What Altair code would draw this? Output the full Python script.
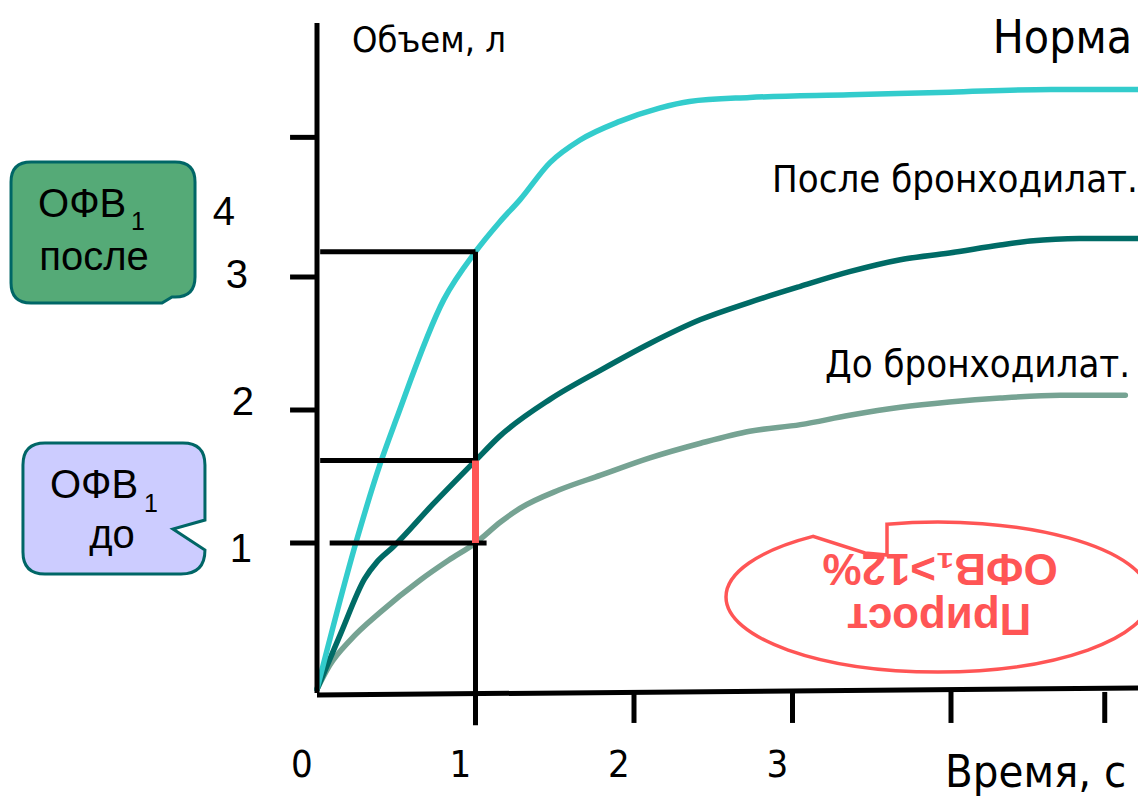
import altair as alt
import pandas as pd

# ---------------- data ----------------
series_names = ["До бронходилат.", "После бронходилат.", "Норма"]
series_colors = ["#76A393", "#006B66", "#33CCCC"]

# time (s) / volume (l)
norm_t = [0, 0.25, 0.40, 0.50, 0.80, 1.00, 1.15, 1.28, 1.47, 1.66, 1.91, 2.16, 2.35, 2.73, 3.36, 3.99, 4.63, 5.23]
norm_v = [-0.10, 1.02, 1.60, 1.93, 2.83, 3.19, 3.41, 3.58, 3.86, 4.03, 4.17, 4.27, 4.32, 4.35, 4.37, 4.39, 4.41, 4.41]

post_t = [0, 0.15, 0.30, 0.38, 0.48, 0.73, 1.00, 1.15, 1.47, 1.79, 2.10, 2.42, 2.73, 3.05, 3.36, 3.68, 3.99, 4.31, 4.50, 4.81, 5.19]
post_v = [-0.10, 0.32, 0.73, 0.86, 0.97, 1.29, 1.62, 1.80, 2.08, 2.30, 2.50, 2.68, 2.81, 2.93, 3.04, 3.13, 3.18, 3.24, 3.27, 3.29, 3.29]

pre_t = [0, 0.08, 0.21, 0.40, 0.65, 0.83, 1.00, 1.16, 1.28, 1.53, 1.79, 2.10, 2.42, 2.73, 3.05, 3.36, 3.68, 3.99, 4.31, 4.69, 5.10]
pre_v = [-0.10, 0.08, 0.27, 0.48, 0.72, 0.87, 1.00, 1.16, 1.26, 1.40, 1.51, 1.64, 1.75, 1.84, 1.89, 1.96, 2.02, 2.06, 2.09, 2.11, 2.11]

# FEV1 guide levels (l) and their horizontal extent (s)
guide_level = [3.19, 1.62, 1.00]
guide_from = [0.02, 0.02, 0.08]
guide_to = [1.00, 1.00, 1.07]
fev1_time = 1.0
fev1_pre = 1.00
fev1_post = 1.62

y_tick_values = [1.0, 2.0, 3.0, 4.05]
y_tick_labels = ["1", "2", "3", "4"]
x_tick_values = [1, 2, 3, 4, 4.97]
x_label_values = [0, 1, 2, 3]
x_label_texts = ["0", "1", "2", "3"]

# ---------------- scales ----------------
X_DOMAIN = [-1.9495, 5.1798]
Y_DOMAIN = [-0.9248, 5.0226]
XS = alt.Scale(domain=X_DOMAIN, nice=False, zero=False)
YS = alt.Scale(domain=Y_DOMAIN, nice=False, zero=False)


def ex(f="x"):
    return alt.X(f"{f}:Q", scale=XS, axis=None)


def ey(f="y"):
    return alt.Y(f"{f}:Q", scale=YS, axis=None)


COND = "DejaVu Sans Condensed"
ARIAL = "Liberation Sans"
RED = "#FF5555"

# ---------------- curves ----------------
rows = []
for name, ts, vs in zip(series_names, [pre_t, post_t, norm_t], [pre_v, post_v, norm_v]):
    for t, v in zip(ts, vs):
        rows.append({"series": name, "t": t, "v": v})
curve_df = pd.DataFrame(rows)

curves = alt.Chart(curve_df).mark_line(strokeWidth=5.5, interpolate="monotone", strokeCap="round").encode(
    x=ex("t"), y=ey("v"),
    color=alt.Color("series:N", scale=alt.Scale(domain=series_names, range=series_colors), legend=None),
)

# ---------------- guides ----------------
seg_rows = []
for lv, a, b in zip(guide_level, guide_from, guide_to):
    seg_rows.append({"x": a, "x2": b, "y": lv, "y2": lv})
seg_rows.append({"x": fev1_time, "x2": fev1_time, "y": guide_level[0], "y2": -0.37})
# axes
seg_rows.append({"x": 0, "x2": 0, "y": 4.91, "y2": -0.128})
seg_rows.append({"x": 0, "x2": 5.18, "y": -0.143, "y2": -0.09})
for v in y_tick_values:
    seg_rows.append({"x": -0.17, "x2": 0, "y": v, "y2": v})
for v in x_tick_values:
    seg_rows.append({"x": v, "x2": v, "y": -0.12, "y2": -0.353})
seg_df = pd.DataFrame(seg_rows)

segments = alt.Chart(seg_df).mark_rule(color="black", strokeWidth=5, strokeCap="butt").encode(
    x=ex("x"), x2="x2:Q", y=ey("y"), y2="y2:Q"
)

red_df = pd.DataFrame([{"x": fev1_time, "y": fev1_pre, "y2": fev1_post}])
red = alt.Chart(red_df).mark_rule(color=RED, strokeWidth=7, strokeCap="butt").encode(
    x=ex("x"), y=ey("y"), y2="y2:Q"
)

# ---------------- callout shapes ----------------
GREEN_PATH = ("M -0.72 -0.705 L 0.72 -0.705 Q 0.92 -0.705 0.92 -0.505 L 0.92 0.445 "
              "Q 0.92 0.645 0.72 0.645 L 0.69 0.645 L 0.59 0.705 L -0.72 0.705 "
              "Q -0.92 0.705 -0.92 0.505 L -0.92 -0.505 Q -0.92 -0.705 -0.72 -0.705 Z")
LAV_PATH = ("M -0.69 -0.655 L 0.69 -0.655 Q 0.91 -0.655 0.91 -0.435 L 0.91 0.115 "
            "L 0.59 0.205 L 0.91 0.415 Q 0.91 0.655 0.67 0.655 L -0.69 0.655 "
            "Q -0.91 0.655 -0.91 0.435 L -0.91 -0.435 Q -0.91 -0.655 -0.69 -0.655 Z")
ELL_PATH = ("M -2.12 0 A 2.12 0.75 0 0 1 -1.25 -0.606 L -0.73 -0.44 L -0.51 -0.42 "
            "L -0.51 -0.728 A 2.12 0.75 0 0 1 2.12 0 A 2.12 0.75 0 0 1 0 0.75 "
            "A 2.12 0.75 0 0 1 -2.12 0 Z")

green_bub = alt.Chart(pd.DataFrame([{"x": -1.350, "y": 3.335}])).mark_point(
    shape=GREEN_PATH, size=40000, filled=True, fill="#55AA77", stroke="#006666",
    strokeWidth=3, opacity=1
).encode(x=ex(), y=ey())

lav_bub = alt.Chart(pd.DataFrame([{"x": -1.281, "y": 1.259}])).mark_point(
    shape=LAV_PATH, size=40000, filled=True, fill="#CCCCFF", stroke="#006666",
    strokeWidth=3, opacity=1
).encode(x=ex(), y=ey())

ellipse = alt.Chart(pd.DataFrame([{"x": 3.918, "y": 0.594}])).mark_point(
    shape=ELL_PATH, size=40000, filled=False, stroke=RED, strokeWidth=3.5, opacity=1
).encode(x=ex(), y=ey())


# ---------------- texts ----------------
def text_layer(items, **kw):
    df = pd.DataFrame(items)
    return alt.Chart(df).mark_text(**kw).encode(x=ex(), y=ey(), text="label:N")


ylabels = text_layer(
    [{"x": xx, "y": yy, "label": lab} for xx, yy, lab in
     zip([-0.480, -0.467, -0.505, -0.587], [0.947, 2.053, 3.008, 3.481], y_tick_labels)],
    font=ARIAL, fontSize=40, align="center", baseline="middle", color="black")

xlabels = text_layer(
    [{"x": v, "y": -0.759, "label": lab} for v, lab in zip(x_label_values, x_label_texts)],
    font=COND, fontSize=38, align="center", baseline="alphabetic", dx=-15, color="black")

ylab_title = text_layer([{"x": 0.221, "y": 4.692, "label": "Объем, л"}],
                        font=COND, fontSize=36, align="left", baseline="alphabetic", color="black")
xlab_title = text_layer([{"x": 3.962, "y": -0.835, "label": "Время, с"}],
                        font=COND, fontSize=45, align="left", baseline="alphabetic", color="black")
norm_lab = text_layer([{"x": 5.142, "y": 4.684, "label": "Норма"}],
                      font=COND, fontSize=46, align="right", baseline="alphabetic", color="black")
curve_labs = text_layer([{"x": 2.871, "y": 3.639, "label": "После бронходилат."},
                         {"x": 3.205, "y": 2.248, "label": "До бронходилат."}],
                        font=COND, fontSize=38, align="left", baseline="alphabetic", color="black")

bub_main = text_layer([{"x": -1.760, "y": 3.451, "label": "ОФВ"},
                       {"x": -1.685, "y": 1.338, "label": "ОФВ"}],
                      font=ARIAL, fontSize=40, align="left", baseline="alphabetic", color="black")
bub_sub = text_layer([{"x": -1.174, "y": 3.35, "label": "1"},
                      {"x": -1.091, "y": 1.235, "label": "1"}],
                     font=ARIAL, fontSize=25, align="left", baseline="alphabetic", color="black")
bub_second = text_layer([{"x": -1.407, "y": 3.053, "label": "после"},
                         {"x": -1.293, "y": 0.962, "label": "до"}],
                        font=ARIAL, fontSize=40, align="center", baseline="alphabetic", color="black")

ell_text = text_layer([{"x": 3.931, "y": 0.820, "label": "ОФВ₁>12%"},
                       {"x": 3.924, "y": 0.444, "label": "Прирост"}],
                      font=ARIAL, fontSize=44, fontWeight="bold", align="center",
                      baseline="middle", angle=180, color=RED)

chart = alt.layer(
    curves, segments, red, green_bub, lav_bub, ellipse,
    ylabels, xlabels, ylab_title, xlab_title, norm_lab, curve_labs,
    bub_main, bub_sub, bub_second, ell_text
).properties(
    width=1130, height=791,
    autosize=alt.AutoSizeParams(type="none"),
    padding=0,
    background="white",
).configure_view(stroke=None)

chart.save("out.html", embed_options={"renderer": "svg", "actions": False})
